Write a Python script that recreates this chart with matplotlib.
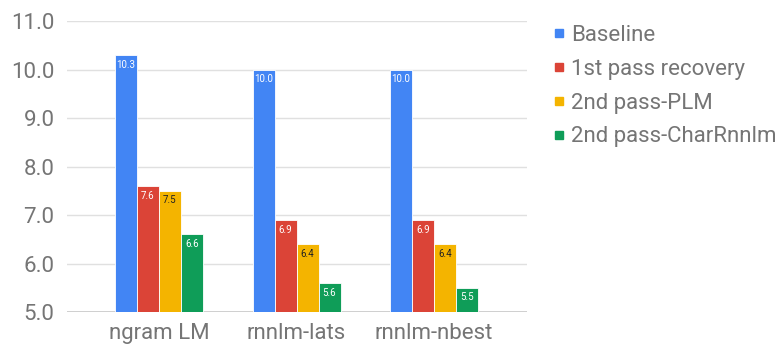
import matplotlib
matplotlib.use("Agg")
import matplotlib.pyplot as plt
from matplotlib.lines import Line2D
import numpy as np

plt.rcParams['font.family'] = ['Roboto', 'DejaVu Sans']

categories = ["ngram LM", "rnnlm-lats", "rnnlm-nbest"]
series_names = ["Baseline", "1st pass recovery", "2nd pass-PLM", "2nd pass-CharRnnlm"]
baseline = [10.3, 10.0, 10.0]
first_pass = [7.6, 6.9, 6.9]
second_plm = [7.5, 6.4, 6.4]
second_char = [6.6, 5.6, 5.5]
series_values = [baseline, first_pass, second_plm, second_char]

colors = ["#4285F4", "#DB4437", "#F4B400", "#0F9D58"]
label_colors = ["#ffffff", "#ffffff", "#222222", "#ffffff"]
text_gray = "#757575"

fig = plt.figure(figsize=(7.8, 3.52), dpi=100)
ax = fig.add_axes([0.0859, 0.1136, 0.5897, 0.8267])

x = np.arange(len(categories))
bar_w = 0.16
offsets = (np.arange(len(series_values)) - 1.5) * bar_w

handles = []
for i, (vals, name) in enumerate(zip(series_values, series_names)):
    heights = np.array(vals) - 5.0
    bars = ax.bar(x + offsets[i], heights, width=bar_w, bottom=5.0,
                  color=colors[i], edgecolor="white", linewidth=0.6, zorder=3)
    for b, v in zip(bars, vals):
        ax.text(b.get_x() + b.get_width() / 2, v - 0.2, f"{v:.1f}",
                ha="center", va="center", fontsize=7,
                color=label_colors[i], zorder=4)
    handles.append(Line2D([], [], marker="s", linestyle="none",
                          markersize=6, color=colors[i], label=name))

ax.set_ylim(5.0, 11.0)
ax.set_xlim(-0.669, 2.676)
ax.set_yticks(np.arange(5, 11.01, 1.0))
ax.set_yticklabels([f"{v:.1f}" for v in np.arange(5, 11.01, 1.0)])
ax.set_xticks(x)
ax.set_xticklabels(categories)

ax.grid(axis="y", color="#e0e0e0", linewidth=1.0, zorder=0)
ax.axhline(5.0, color="#c8c8c8", linewidth=1.2, zorder=2)
for s in ax.spines.values():
    s.set_visible(False)
ax.tick_params(axis="both", length=0, labelsize=16, colors=text_gray)
ax.tick_params(axis="y", pad=9)
ax.tick_params(axis="x", pad=8)

leg = fig.legend(handles=handles, loc="upper left",
                 bbox_to_anchor=(0.697, 0.955), frameon=False,
                 fontsize=16, labelspacing=0.58, handlelength=0.6,
                 handletextpad=0.25, borderaxespad=0)
for t in leg.get_texts():
    t.set_color(text_gray)

fig.savefig("out.png", dpi=100)
